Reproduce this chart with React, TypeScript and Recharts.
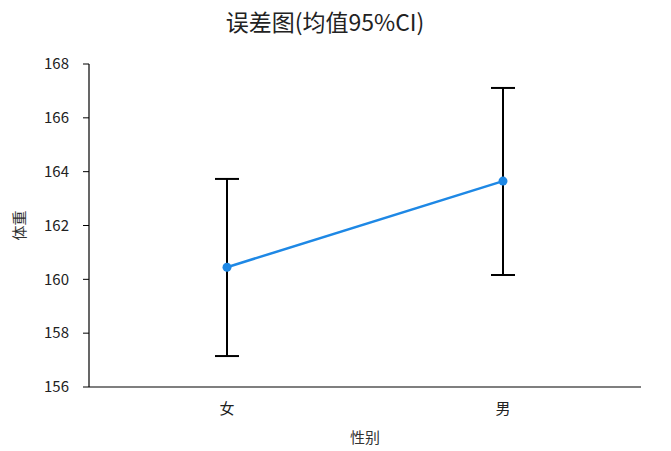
import { LineChart, Line, XAxis, YAxis, ErrorBar } from 'recharts';

const categories = ['女', '男'];
const means = [160.45, 163.65];
const lowerCI = [157.15, 160.16];
const upperCI = [163.73, 167.11];
const yTicks = [156, 158, 160, 162, 164, 166, 168];

const FONT = '"Noto Sans CJK SC", "Noto Sans", sans-serif';

const chartData = categories.map((name, i) => ({
  name,
  mean: means[i],
  // ErrorBar wants [down, up] offsets from the mean
  err: [means[i] - lowerCI[i], upperCI[i] - means[i]],
}));

export default function App() {
  return (
    <div style={{ position: 'absolute', left: 0, top: 0, width: 671, height: 451, background: '#fff', fontFamily: FONT }}>
      <div
        style={{
          position: 'absolute',
          top: 4,
          left: 0,
          width: 650,
          textAlign: 'center',
          fontSize: 23,
          color: '#222',
        }}
      >
        误差图(均值95%CI)
      </div>
      <LineChart width={671} height={451} data={chartData} margin={{ top: 64, right: 30, left: 0, bottom: 34 }}>
        <XAxis
          dataKey="name"
          scale="band"
          tickLine={false}
          axisLine={{ stroke: '#000', strokeWidth: 1.2 }}
          tick={{ fontSize: 15, fill: '#222', fontFamily: FONT }}
          tickMargin={10}
          label={{ value: '性别', position: 'insideBottom', offset: -26, style: { fontSize: 15, fill: '#333', fontFamily: FONT } }}
        />
        <YAxis
          width={89}
          domain={[156, 168]}
          ticks={yTicks}
          axisLine={{ stroke: '#000', strokeWidth: 1.2 }}
          tickLine={{ stroke: '#000' }}
          tickSize={6}
          tickMargin={14}
          tick={{ fontSize: 15, fill: '#222', fontFamily: FONT }}
          label={{ value: '体重', angle: -90, position: 'insideLeft', offset: 12, dx: 8, style: { fontSize: 15, fill: '#333', fontFamily: FONT, textAnchor: 'middle' } }}
        />
        <Line
          type="linear"
          dataKey="mean"
          stroke="#1e88e5"
          strokeWidth={2.5}
          dot={{ r: 4.5, fill: '#1e88e5', stroke: '#1e88e5', strokeWidth: 0 }}
          isAnimationActive={false}
        >
          <ErrorBar dataKey="err" width={12} stroke="#000" strokeWidth={2} direction="y" />
        </Line>
      </LineChart>
    </div>
  );
}
